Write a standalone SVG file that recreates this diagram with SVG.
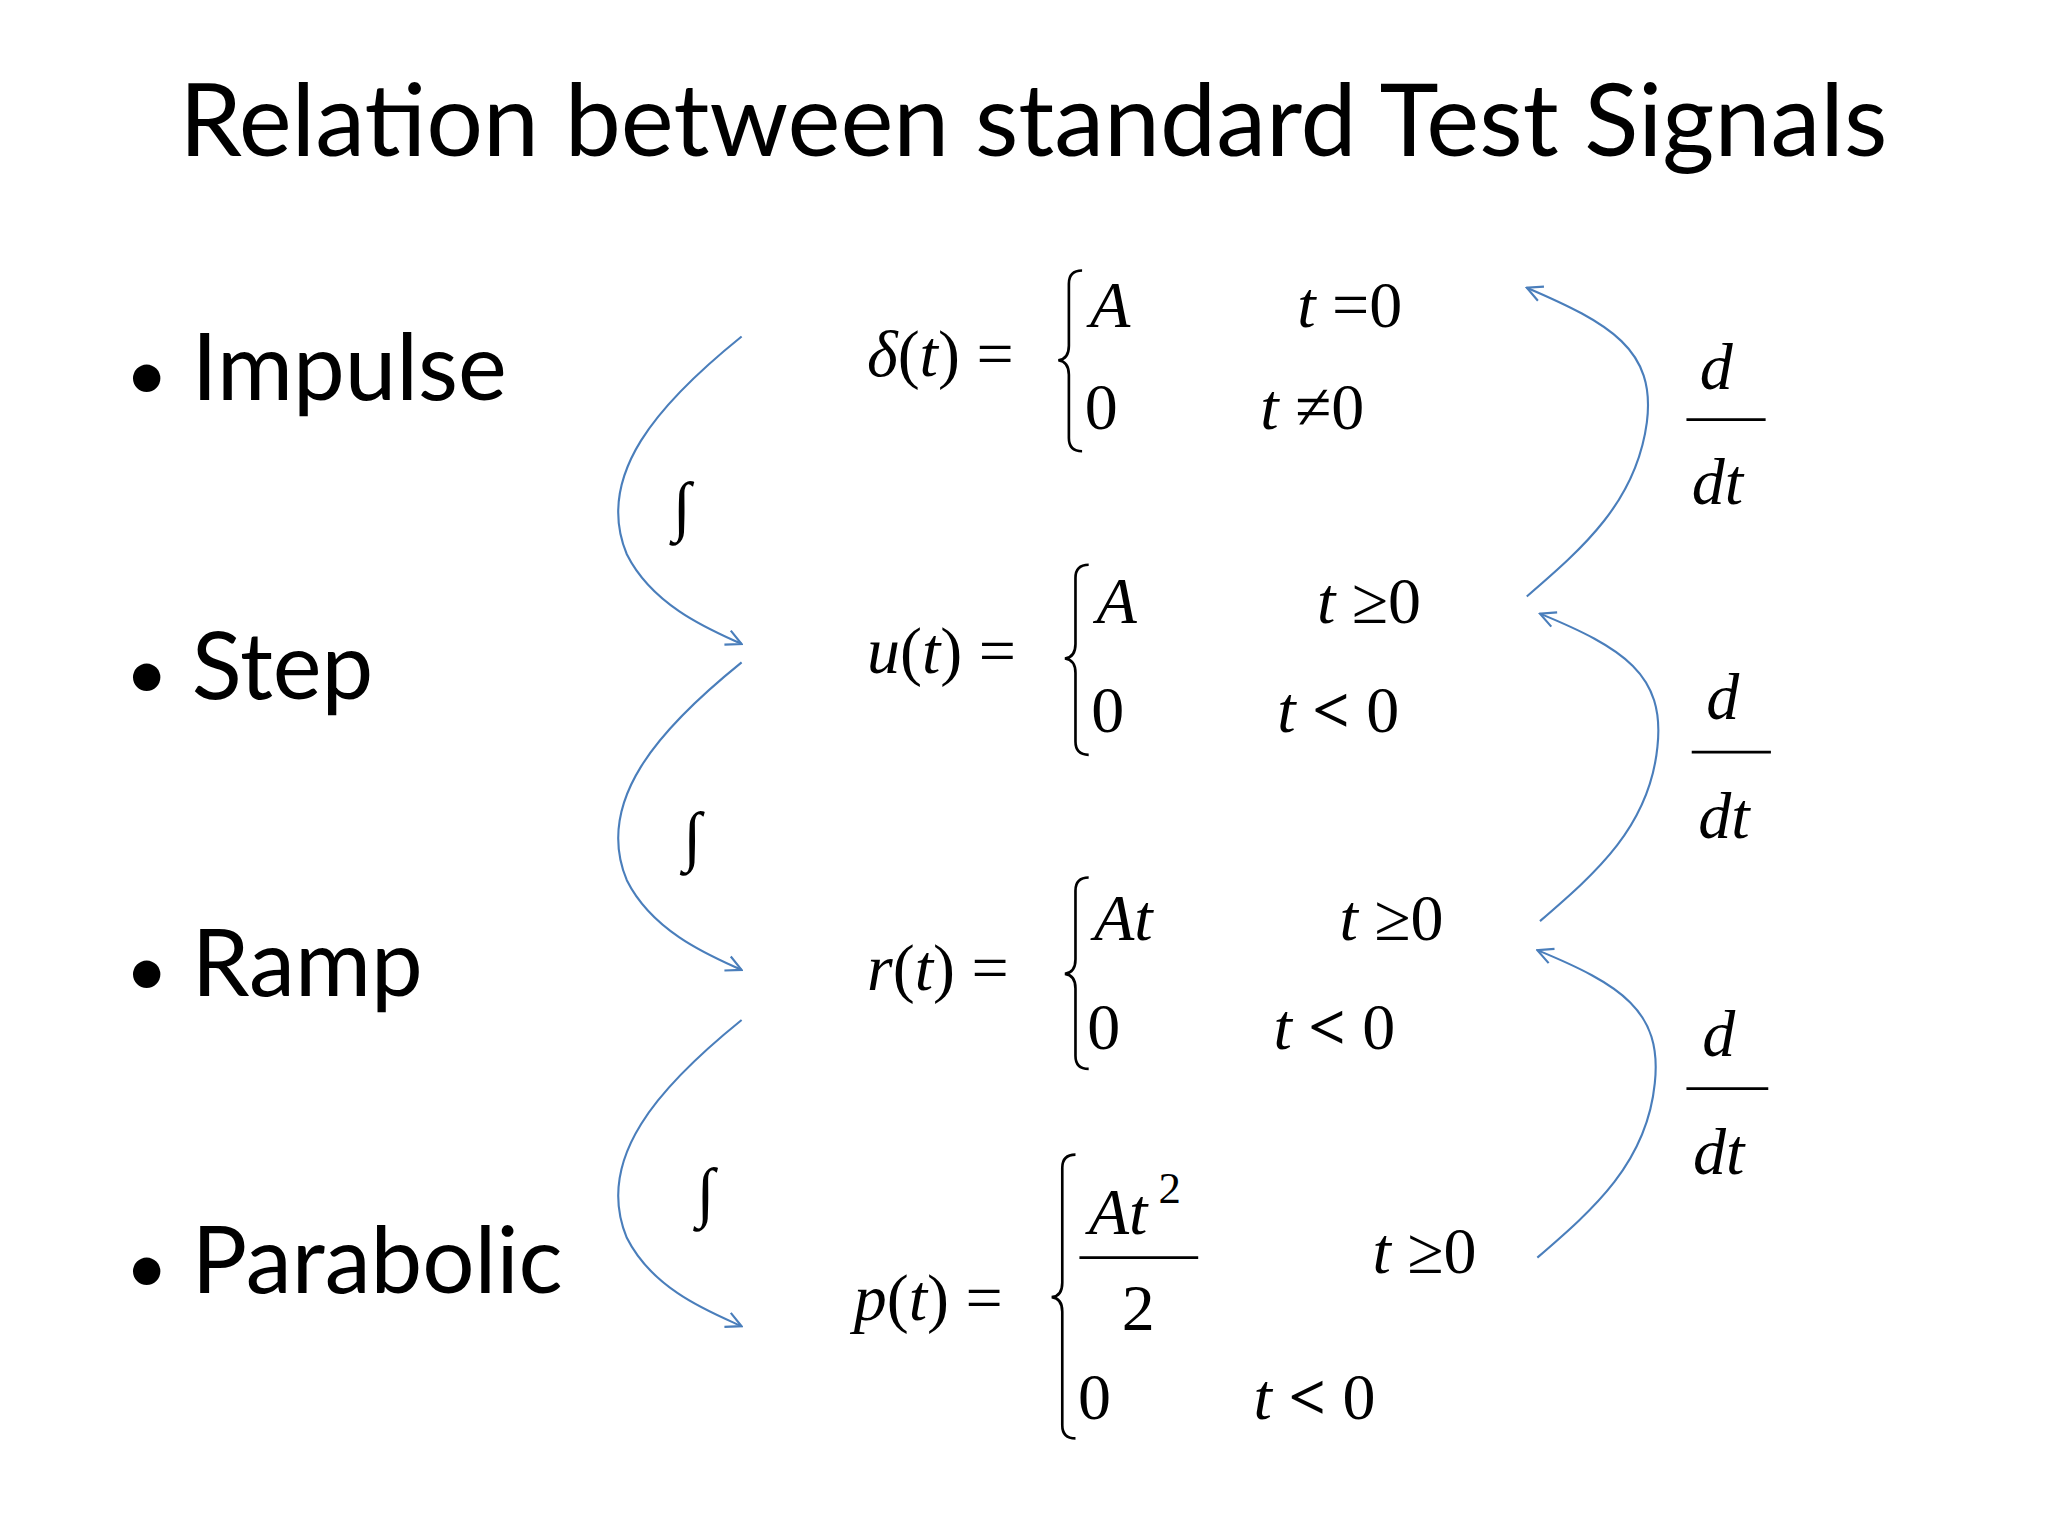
<svg xmlns="http://www.w3.org/2000/svg" width="2048" height="1536" viewBox="0 0 2048 1536">
<style>
.t{font-family:Lato,"Open Sans",sans-serif;fill:#000}
.m{font-family:"Liberation Serif",serif;font-size:50px;fill:#000}
.i{font-style:italic}
.b{fill:none;stroke:#000;stroke-width:2}
.c{fill:none;stroke:#4a7ebb;stroke-width:1.6}
</style>
<defs><marker id="a" viewBox="0 0 12 12" refX="11" refY="6" markerWidth="14" markerHeight="14" markerUnits="userSpaceOnUse" orient="auto"><path d="M1,1 L11,6 L1,11" fill="none" stroke="#4a7ebb" stroke-width="1.4"/></marker></defs>
<rect width="2048" height="1536" fill="#fff"/>
<g transform="scale(1.3196)">
<g id="title"><text class="t" x="783" y="118" font-size="76" text-anchor="middle">Relation between standard Test Signals</text></g>
<g id="bullets" class="t" font-size="70">
<text x="95" y="303"><tspan font-size="56">•</tspan> Impulse</text>
<text x="95" y="530"><tspan font-size="56">•</tspan> Step</text>
<text x="95" y="755"><tspan font-size="56">•</tspan> Ramp</text>
<text x="95" y="980"><tspan font-size="56">•</tspan> Parabolic</text>
</g>
<g id="impulse" class="m">
<text x="657" y="285"><tspan class="i">δ</tspan>(<tspan class="i">t</tspan>) =</text>
<path class="b" d="M820,205 Q810,205 810,215 L810,262 Q810,272 802,273 Q810,274 810,284 L810,332 Q810,342 820,342"/>
<text x="826" y="248" class="i">A</text><text x="983" y="248"><tspan class="i">t</tspan> =0</text>
<text x="822" y="325">0</text><text x="955" y="325"><tspan class="i">t</tspan> ≠0</text>
</g>
<g id="step" class="m">
<text x="657" y="510"><tspan class="i">u</tspan>(<tspan class="i">t</tspan>) =</text>
<path class="b" d="M825,428 Q815,428 815,438 L815,488 Q815,498 807,499 Q815,500 815,510 L815,562 Q815,572 825,572"/>
<text x="831" y="472" class="i">A</text><text x="998" y="472"><tspan class="i">t</tspan> ≥0</text>
<text x="827" y="555">0</text><text x="968" y="555"><tspan class="i">t</tspan> <tspan font-weight="bold">&lt;</tspan> 0</text>
</g>
<g id="ramp" class="m">
<text x="657" y="750"><tspan class="i">r</tspan>(<tspan class="i">t</tspan>) =</text>
<path class="b" d="M825,665 Q815,665 815,675 L815,727 Q815,737 807,738 Q815,739 815,749 L815,800 Q815,810 825,810"/>
<text x="829" y="712" class="i">At</text><text x="1015" y="712"><tspan class="i">t</tspan> ≥0</text>
<text x="824" y="795">0</text><text x="965" y="795"><tspan class="i">t</tspan> <tspan font-weight="bold">&lt;</tspan> 0</text>
</g>
<g id="parabolic" class="m">
<text x="647" y="1000"><tspan class="i">p</tspan>(<tspan class="i">t</tspan>) =</text>
<path class="b" d="M815,875 Q805,875 805,885 L805,972 Q805,982 797,983 Q805,984 805,994 L805,1080 Q805,1090 815,1090"/>
<text x="825" y="935" class="i">At</text><text x="878" y="912" font-size="34">2</text>
<line x1="818" y1="953" x2="908" y2="953" stroke="#000" stroke-width="2"/>
<text x="850" y="1008">2</text>
<text x="1040" y="965"><tspan class="i">t</tspan> ≥0</text>
<text x="817" y="1075">0</text><text x="950" y="1075"><tspan class="i">t</tspan> <tspan font-weight="bold">&lt;</tspan> 0</text>
</g>
<g id="integrals" class="m" font-size="92">
<text x="510" y="400">∫</text><text x="518" y="650">∫</text><text x="528" y="920">∫</text>
</g>
<g id="derivs" class="m i" font-size="60">
<text x="1288" y="295">d</text><line x1="1278" y1="318" x2="1338" y2="318" stroke="#000" stroke-width="2"/><text x="1282" y="382">dt</text>
<text x="1293" y="545">d</text><line x1="1282" y1="570" x2="1342" y2="570" stroke="#000" stroke-width="2"/><text x="1287" y="635">dt</text>
<text x="1290" y="800">d</text><line x1="1278" y1="825" x2="1340" y2="825" stroke="#000" stroke-width="2"/><text x="1283" y="890">dt</text>
</g>
<g id="connectors" class="c">
<path marker-end="url(#a)" d="M562,255 C500,305 450,360 475,420 C495,460 540,478 562,488"/>
<path marker-end="url(#a)" d="M562,502 C500,552 450,607 475,667 C495,707 540,725 562,735"/>
<path marker-end="url(#a)" d="M562,773 C500,823 450,878 475,938 C495,978 540,995 562,1005"/>
<path marker-end="url(#a)" d="M1157,452 C1200,415 1240,380 1248,320 C1255,265 1220,245 1157,218"/>
<path marker-end="url(#a)" d="M1167,698 C1210,661 1250,626 1256,566 C1262,511 1230,491 1167,465"/>
<path marker-end="url(#a)" d="M1165,953 C1208,916 1248,881 1254,821 C1260,766 1228,746 1165,720"/>
</g>
</g>
</svg>
